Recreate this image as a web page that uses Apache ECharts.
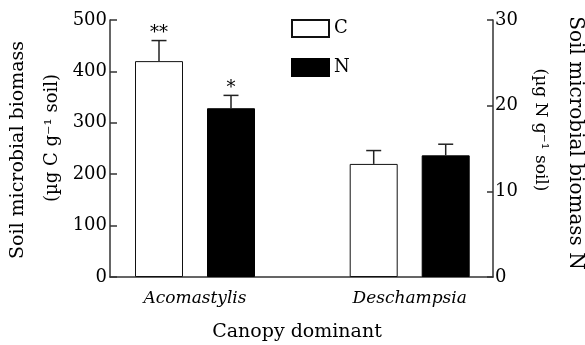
<!DOCTYPE html>
<html>
<head>
<meta charset="utf-8">
<script src="https://cdn.jsdelivr.net/npm/echarts@6/dist/echarts.min.js"></script>
<style>
html,body{margin:0;padding:0;background:#fff;}
#chart{width:585px;height:345px;}
</style>
</head>
<body>
<div id="chart"></div>
<script>
// ---- data ----
const categories = ['Acomastylis', 'Deschampsia'];
const carbon = [420, 220];          // µg C g-1 soil (left axis)
const carbonErr = [40, 26];
const carbonSig = ['**', ''];
const nitrogen = [19.7, 14.2];      // µg N g-1 soil (right axis)
const nitrogenErr = [1.5, 1.3];
const nitrogenSig = ['*', ''];
const leftAxis = {min: 0, max: 500, interval: 100};
const rightAxis = {min: 0, max: 30, interval: 10};

// ---- style constants ----
const SERIF = '"DejaVu Serif", "Liberation Serif", serif';
const BAR_W = 48;
const BAR_GAP = 0.5;
const OFFSET = (BAR_W + BAR_W * BAR_GAP) / 2;
const AXIS_COLOR = '#333';

function errorRenderer(errArr, sigArr, side) {
  return function (params, api) {
    const i = params.dataIndex;
    const val = api.value(1);
    const err = errArr[i];
    const xc = api.coord([api.value(0), 0])[0] + side * OFFSET;
    const yTop = api.coord([api.value(0), val])[1];
    const yErr = api.coord([api.value(0), val + err])[1];
    const children = [
      {type: 'line', shape: {x1: xc, y1: yTop, x2: xc, y2: yErr},
       style: {stroke: '#222', lineWidth: 1.5}},
      {type: 'line', shape: {x1: xc - 7.5, y1: yErr, x2: xc + 7.5, y2: yErr},
       style: {stroke: '#222', lineWidth: 1.5}}
    ];
    if (sigArr[i]) {
      children.push({type: 'text', x: xc, y: yErr - 7,
        style: {text: sigArr[i], font: '18px ' + SERIF, fill: '#000',
                textAlign: 'center', textVerticalAlign: 'middle'}});
    }
    return {type: 'group', children: children};
  };
}

const chart = echarts.init(document.getElementById('chart'), null, {renderer: 'canvas'});
const option = {
  animation: false,
  backgroundColor: '#fff',
  grid: [
    {left: 110, right: 92, top: 20, bottom: 68},
    {left: 87.65, right: 67.95, top: 20, bottom: 68}
  ],
  legend: {
    data: ['C', 'N'],
    orient: 'vertical',
    left: 286, top: 14,
    itemWidth: 37, itemHeight: 17, itemGap: 20,
    icon: 'rect',
    textStyle: {fontFamily: SERIF, fontSize: 18, color: '#000'}
  },
  xAxis: [
    {gridIndex: 0, type: 'category', data: categories,
     axisLine: {show: true, lineStyle: {color: AXIS_COLOR, width: 1.5}},
     axisTick: {show: false}, axisLabel: {show: false}, splitLine: {show: false}},
    {gridIndex: 1, type: 'category', data: categories,
     axisLine: {show: false}, axisTick: {show: false},
     axisLabel: {fontFamily: SERIF, fontStyle: 'italic', fontSize: 17, color: '#000', margin: 13}}
  ],
  yAxis: [
    {gridIndex: 0, type: 'value', position: 'left', min: leftAxis.min, max: leftAxis.max, interval: leftAxis.interval,
     axisLine: {show: true, lineStyle: {color: AXIS_COLOR, width: 1.5}},
     axisTick: {show: true, inside: true, length: 7, lineStyle: {color: AXIS_COLOR, width: 1.5}},
     axisLabel: {fontFamily: SERIF, fontSize: 18, color: '#000', margin: 3},
     splitLine: {show: false}},
    {gridIndex: 0, type: 'value', position: 'right', min: rightAxis.min, max: rightAxis.max, interval: rightAxis.interval,
     axisLine: {show: true, lineStyle: {color: AXIS_COLOR, width: 1.5}},
     axisTick: {show: true, inside: true, length: 6, lineStyle: {color: AXIS_COLOR, width: 1.5}},
     axisLabel: {fontFamily: SERIF, fontSize: 18, color: '#000', margin: 2},
     splitLine: {show: false}},
    {gridIndex: 1, type: 'value', min: leftAxis.min, max: leftAxis.max, show: false},
    {gridIndex: 1, type: 'value', min: rightAxis.min, max: rightAxis.max, show: false}
  ],
  graphic: [
    {type: 'text', left: null, x: 18.5, y: 150, rotation: Math.PI / 2,
     style: {text: 'Soil microbial biomass', font: '19px ' + SERIF, fill: '#000', textAlign: 'center', textVerticalAlign: 'middle'}},
    {type: 'text', x: 52, y: 138, rotation: Math.PI / 2,
     style: {text: '(µg C g⁻¹ soil)', font: '18px ' + SERIF, fill: '#000', textAlign: 'center', textVerticalAlign: 'middle'}},
    {type: 'text', x: 575, y: 143, rotation: -Math.PI / 2,
     style: {text: 'Soil microbial biomass N', font: '20px ' + SERIF, fill: '#000', textAlign: 'center', textVerticalAlign: 'middle'}},
    {type: 'text', x: 540, y: 130, rotation: -Math.PI / 2,
     style: {text: '(µg N g⁻¹ soil)', font: '17px ' + SERIF, fill: '#000', textAlign: 'center', textVerticalAlign: 'middle'}},
    {type: 'text', x: 297, y: 332,
     style: {text: 'Canopy dominant', font: '19px ' + SERIF, fill: '#000', textAlign: 'center', textVerticalAlign: 'middle'}}
  ],
  series: [
    {name: 'C', type: 'bar', xAxisIndex: 1, yAxisIndex: 2, data: carbon,
     barWidth: BAR_W, barGap: (BAR_GAP * 100) + '%',
     itemStyle: {color: '#fff', borderColor: '#111', borderWidth: 1}},
    {name: 'N', type: 'bar', xAxisIndex: 1, yAxisIndex: 3, data: nitrogen,
     barWidth: BAR_W, barGap: (BAR_GAP * 100) + '%',
     itemStyle: {color: '#000', borderColor: '#000', borderWidth: 1}},
    {name: 'C error', type: 'custom', xAxisIndex: 1, yAxisIndex: 2, z: 5,
     data: carbon.map((v, i) => [i, v]),
     renderItem: errorRenderer(carbonErr, carbonSig, -1)},
    {name: 'N error', type: 'custom', xAxisIndex: 1, yAxisIndex: 3, z: 5,
     data: nitrogen.map((v, i) => [i, v]),
     renderItem: errorRenderer(nitrogenErr, nitrogenSig, 1)}
  ]
};
chart.setOption(option);
</script>
</body>
</html>
